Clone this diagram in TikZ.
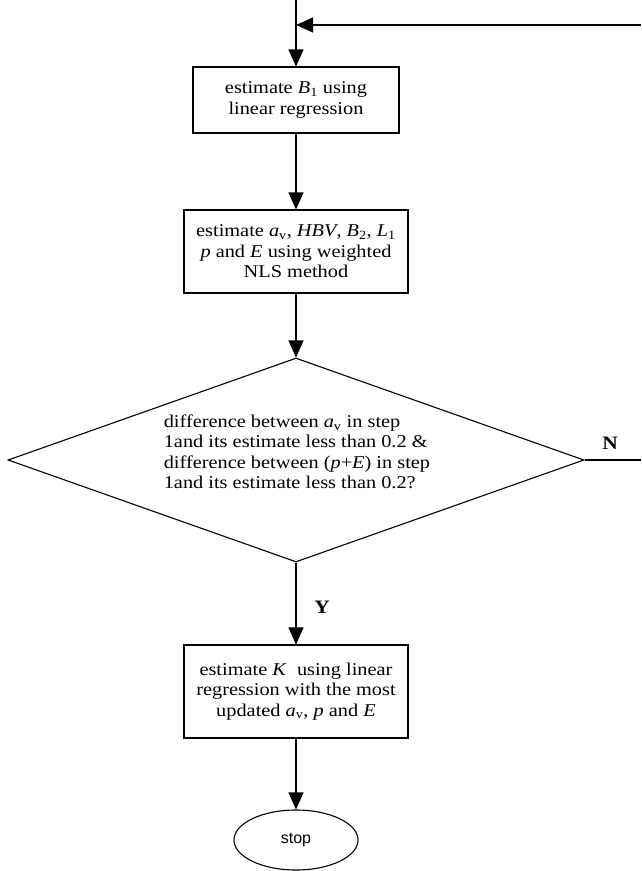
\documentclass[tikz,border=0pt]{standalone}
\usepackage{fontspec}
\setmainfont{Liberation Serif}[FakeStretch=1.13]
\newfontfamily\stopfont{Liberation Sans}
\usetikzlibrary{arrows.meta,shapes.geometric}
\tikzset{
  every node/.style={font=\fontsize{18}{20.5}\selectfont},
  box/.style={draw, line width=1.1pt, align=center, inner sep=0pt, minimum width=224pt},
  arr/.style={line width=1.1pt, -{Triangle[length=17pt,width=15pt]}},
  ln/.style={line width=1.1pt},
  lbl/.style={font=\fontsize{19}{22}\selectfont\bfseries},
}
\begin{document}
\begin{tikzpicture}[x=1pt,y=-1pt]
\useasboundingbox (0,0) rectangle (641,871);
\coordinate (top) at (296,0);
\coordinate (j) at (296,25);
\coordinate (fbr) at (641,25);
\coordinate (nend) at (641,460);
\node[box, minimum width=206pt, minimum height=66pt] (b1) at (296,100)
  {estimate \textit{B}\textsubscript{1} using\\linear regression};
\node[box, minimum height=83pt] (b2) at (296,251.5)
  {estimate \textit{a}\textsubscript{v}, \textit{HBV}, \textit{B}\textsubscript{2}, \textit{L}\textsubscript{1}\\
   \textit{p} and \textit{E} using weighted\\NLS method};
\node[diamond, draw, line width=1.1pt, inner sep=0pt, aspect=2.82,
      minimum width=576pt, minimum height=204pt] (dec) at (296,460) {};
\node[align=left, inner sep=0pt] (dtxt) at (297,452)
  {difference between \textit{a}\textsubscript{v} in step\\
   1and its estimate less than 0.2 \&\\
   difference between (\textit{p}+\textit{E}) in step\\
   1and its estimate less than 0.2?};
\node[box, minimum height=93pt] (b3) at (296,691.5)
  {estimate \textit{K}~ using linear\\regression with the most\\updated \textit{a}\textsubscript{v}, \textit{p} and \textit{E}};
\node[ellipse, draw, line width=1.1pt, inner sep=0pt, minimum width=124pt,
      minimum height=60pt, font=\stopfont\fontsize{16}{19}\selectfont] (stop) at (296,840) {stop};
\node[lbl] (ylab) at (322,607) {Y};
\node[lbl] (nlab) at (610,443) {N};
\draw[ln] (top) -- (j);
\draw[arr] (j) -- (b1);
\draw[arr] (fbr) -- (j);
\draw[arr] (b1) -- (b2);
\draw[arr] (b2) -- (dec.north);
\draw[arr] (dec.south) -- (b3);
\draw[ln] (dec.east) -- (nend);
\draw[arr] (b3) -- (stop);
\end{tikzpicture}
\end{document}
